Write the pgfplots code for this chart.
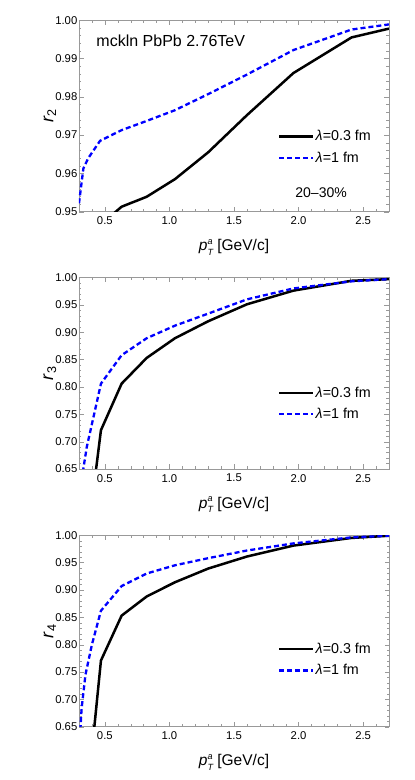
\documentclass[border=0pt]{standalone}
\usepackage{fontspec}
\setmainfont{Liberation Sans}
\usepackage{pgfplots}
\pgfplotsset{compat=1.18}

\newcommand{\pTa}{\textit{p}\rlap{\raisebox{6.8pt}{\fontsize{9}{9}\selectfont\itshape a}}\raisebox{-4.2pt}{\fontsize{9}{9}\selectfont\itshape T}}

\pgfplotsset{
  rpanel/.style={
    scale only axis,
    width=310pt, height=191.5pt,
    anchor=south west,
    xmin=0.3, xmax=2.7,
    xtick={0.5,1.0,1.5,2.0,2.5},
    minor xtick={0.4,0.5,...,2.7},
    minor y tick num=4,
    tick align=inside,
    major tick length=4.5pt,
    minor tick length=2.5pt,
    axis line style={black!40},
    tick style={black!40},
    tick label style={font=\fontsize{11.3}{12}\selectfont, /pgf/number format/assume math mode=true},
    xticklabel style={/pgf/number format/fixed, /pgf/number format/fixed zerofill, /pgf/number format/precision=1, inner sep=0pt, yshift=-5pt},
    yticklabel style={/pgf/number format/fixed, /pgf/number format/fixed zerofill, /pgf/number format/precision=2, inner sep=1.5pt},
    xlabel={\pTa\ [GeV/c]},
    xlabel style={at={(axis description cs:0.5,-0.185)}, anchor=center, font=\fontsize{15.5}{16}\selectfont},
    ylabel style={at={(axis description cs:-0.094,0.5)}, anchor=center, font=\fontsize{18}{19}\selectfont},
    legend style={draw=none, fill=none, anchor=north west, inner sep=0pt, row sep=7.5pt,
      font=\fontsize{14.3}{15}\selectfont, nodes={inner sep=1pt, anchor=west}},
    legend cell align=left,
    legend image code/.code={\draw[#1] (0pt,0pt) -- (34pt,0pt);},
  },
  blk/.style={black, line width=2.5pt},
  blu/.style={blue, line width=2.3pt, dash pattern=on 5pt off 3pt},
}

\begin{document}
\begin{tikzpicture}
\useasboundingbox (0,0) rectangle (415pt,780pt);

% r2
\begin{axis}[rpanel, at={(79pt,568.3pt)},
  ymin=0.95, ymax=1.0, ytick={0.95,0.96,...,1.0},
  ylabel={\textit{r}\textsubscript{2}},
  legend style={at={(axis description cs:0.642,0.43)}}]
\addplot[blk] coordinates {
  (0.47,0.9467) (0.63,0.9513) (0.824,0.9539) (1.043,0.9585) (1.30,0.9655)
  (1.60,0.9752) (1.96,0.9862) (2.41,0.9955) (2.70,0.9978)};
\addlegendentry{\textit{λ}=0.3 fm}
\addplot[blu] coordinates {
  (0.30,0.9522) (0.334,0.9613) (0.372,0.9640) (0.463,0.9685) (0.63,0.9713)
  (0.824,0.9737) (1.043,0.9765) (1.30,0.9807) (1.60,0.9858) (1.96,0.9922)
  (2.41,0.99756) (2.70,0.9989)};
\addlegendentry{\textit{λ}=1 fm}
\node[anchor=west, font=\fontsize{16}{17}\selectfont] at (axis description cs:0.045,0.89) {mckln PbPb 2.76TeV};
\node[font=\fontsize{14}{15}\selectfont] at (axis description cs:0.781,0.098) {20–30\%};
\end{axis}

% r3
\begin{axis}[rpanel, at={(79pt,311pt)},
  ymin=0.65, ymax=1.0, ytick={0.65,0.70,...,1.0},
  ylabel={\textit{r}\textsubscript{3}},
  legend style={at={(axis description cs:0.642,0.435)}}]
\addplot[blk] coordinates {
  (0.31,0.42) (0.47,0.721) (0.63,0.806) (0.824,0.853) (1.043,0.889) (1.30,0.920)
  (1.60,0.951) (1.96,0.976) (2.41,0.994) (2.70,0.997)};
\addlegendentry{\textit{λ}=0.3 fm}
\addplot[blu] coordinates {
  (0.31,0.615) (0.36,0.690) (0.47,0.806) (0.63,0.858) (0.824,0.889) (1.043,0.912)
  (1.30,0.934) (1.60,0.960) (1.96,0.980) (2.41,0.993) (2.70,0.997)};
\addlegendentry{\textit{λ}=1 fm}
\end{axis}

% r4
\begin{axis}[rpanel, at={(79pt,53.3pt)},
  ymin=0.65, ymax=1.0, ytick={0.65,0.70,...,1.0},
  ylabel={\textit{r}\textsubscript{4}},
  legend style={at={(axis description cs:0.642,0.442)}}]
\addplot[blk] coordinates {
  (0.35,0.487) (0.47,0.771) (0.63,0.853) (0.824,0.888) (1.043,0.914) (1.30,0.939)
  (1.60,0.961) (1.96,0.981) (2.41,0.995) (2.70,0.999)};
\addlegendentry{\textit{λ}=0.3 fm}
\addplot[blu] coordinates {
  (0.30,0.60) (0.32,0.683) (0.35,0.745) (0.40,0.800) (0.47,0.862) (0.63,0.907)
  (0.824,0.930) (1.043,0.945) (1.30,0.958) (1.60,0.972) (1.96,0.985) (2.41,0.996)
  (2.70,0.999)};
\addlegendentry{\textit{λ}=1 fm}
\end{axis}
\end{tikzpicture}
\end{document}
